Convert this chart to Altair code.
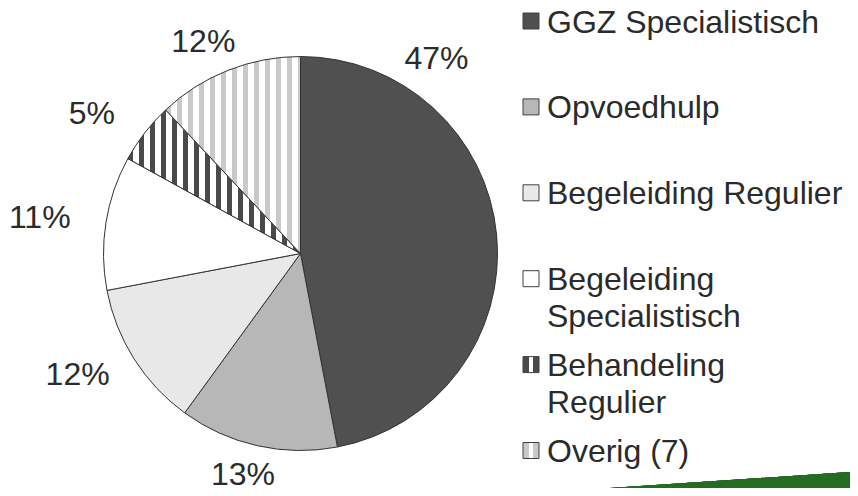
import math
import altair as alt
import pandas as pd

# ---- data ----
categories = ["GGZ Specialistisch", "Opvoedhulp", "Begeleiding Regulier",
              "Begeleiding Specialistisch", "Behandeling Regulier", "Overig (7)"]
legend_labels = ["GGZ Specialistisch", "Opvoedhulp", "Begeleiding Regulier",
                 "Begeleiding\nSpecialistisch", "Behandeling\nRegulier", "Overig (7)"]
values = [47, 13, 12, 11, 5, 12]
pct_labels = ["47%", "13%", "12%", "11%", "5%", "12%"]

df = pd.DataFrame({
    "idx": list(range(len(categories))),
    "cat": categories,
    "leg": legend_labels,
    "value": values,
    "pct": pct_labels,
})

# ---- layout / style ----
CX, CY = 292.5, 245.5        # pie centre (plot px)
R = 197                      # pie radius
LA, LB = 264, 227            # label ellipse half-axes
CLAMP = 31                   # labels are kept left of the legend
FONT = "Liberation Sans"
TXT = "#2b2b2b"
DARK = "#505050"
STRIPE_DARK = "#4a4a4a"
STRIPE_LIGHT = "#c9c9c9"


def sector_width(start_deg, end_deg, r):
    xs = [0.0, r * math.sin(math.radians(start_deg)), r * math.sin(math.radians(end_deg))]
    for k in (90, 270):
        if start_deg <= k <= end_deg:
            xs.append(r * math.sin(math.radians(k)))
    return max(xs) - min(xs)


def stripes(color, width_px, period=11.0, on=0.5):
    stops = []
    pos = 0.0
    while pos < width_px - 1e-6:
        a = pos / width_px
        b = min((pos + period * on) / width_px, 1.0)
        c = min((pos + period) / width_px, 1.0)
        stops += [{"offset": a, "color": color}, {"offset": b, "color": color},
                  {"offset": b, "color": "#ffffff"}, {"offset": c, "color": "#ffffff"}]
        pos += period
    return {"gradient": "linear", "x1": 0, "y1": 0, "x2": 1, "y2": 0, "stops": stops}


def three_band(color):
    return {"gradient": "linear", "x1": 0, "y1": 0, "x2": 1, "y2": 0, "stops": [
        {"offset": 0, "color": color}, {"offset": 0.36, "color": color},
        {"offset": 0.36, "color": "#ffffff"}, {"offset": 0.64, "color": "#ffffff"},
        {"offset": 0.64, "color": color}, {"offset": 1, "color": color}]}


total = sum(values)
cum = 0
widths = {}
for c, v in zip(categories, values):
    s = cum / total * 360
    cum += v
    e = cum / total * 360
    widths[c] = sector_width(s, e, R)

pie_fill = {
    "GGZ Specialistisch": DARK,
    "Opvoedhulp": "#b7b7b7",
    "Begeleiding Regulier": "#e8e8e8",
    "Begeleiding Specialistisch": "#ffffff",
    "Behandeling Regulier": stripes(STRIPE_DARK, widths["Behandeling Regulier"]),
    "Overig (7)": stripes(STRIPE_LIGHT, widths["Overig (7)"]),
}
legend_fill = dict(pie_fill)
legend_fill["Behandeling Regulier"] = three_band(STRIPE_DARK)
legend_fill["Overig (7)"] = three_band(STRIPE_LIGHT)


def conds(fmap):
    return [{"test": f"datum.cat === '{k}'", "value": v} for k, v in fmap.items()]


base = alt.Chart(df)

pie = base.mark_arc(radius=R, stroke="#333333", strokeWidth=1).encode(
    theta=alt.Theta("value:Q", stack=True),
    order=alt.Order("idx:Q"),
    fill=alt.value("#ffffff", condition=conds(pie_fill)),
    x=alt.value(CX),
    y=alt.value(CY),
)

labels = base.transform_joinaggregate(
    total="sum(value)"
).transform_window(
    cum="sum(value)", sort=[alt.SortField("idx")], frame=[None, 0]
).transform_calculate(
    mid="(datum.cum - datum.value / 2) / datum.total * 360"
).transform_calculate(
    a=f"datum.mid > {CLAMP} && datum.mid < 180 - {CLAMP} ? {CLAMP} : datum.mid"
).transform_calculate(
    lx=f"{CX} + {LA} * sin(datum.a * PI / 180)",
    ly=f"{CY} - {LB} * cos(datum.a * PI / 180)",
).mark_text(font=FONT, fontSize=32, color=TXT, align="center", baseline="middle").encode(
    x=alt.X("lx:Q", scale=None, axis=None),
    y=alt.Y("ly:Q", scale=None, axis=None),
    text="pct:N",
)

ysc = alt.Scale(type="point", domain=categories, range=[13, 442.5], padding=0)

leg_sq = base.mark_square(size=256, stroke="#404040", strokeWidth=1, opacity=1).encode(
    x=alt.value(523),
    y=alt.Y("cat:N", scale=ysc, axis=None),
    fill=alt.value("#ffffff", condition=conds(legend_fill)),
)

leg_txt = base.mark_text(font=FONT, fontSize=32, color=TXT, align="left",
                         baseline="alphabetic", dy=11.5, lineBreak="\n",
                         lineHeight=37).encode(
    x=alt.value(539),
    y=alt.Y("cat:N", scale=ysc, axis=None),
    text="leg:N",
)

green = base.mark_rule(color="#246b24", strokeWidth=30, strokeCap="butt").encode(
    x=alt.value(450), x2=alt.value(870),
    y=alt.value(505.1), y2=alt.value(477.3),
)

chart = alt.layer(green, pie, labels, leg_sq, leg_txt).resolve_scale(
    x="independent", y="independent"
).properties(
    width=842, height=480, padding=0, autosize="none", background="white"
).configure_view(stroke=None)

chart.save("out.html", embed_options={"renderer": "svg", "actions": False})
